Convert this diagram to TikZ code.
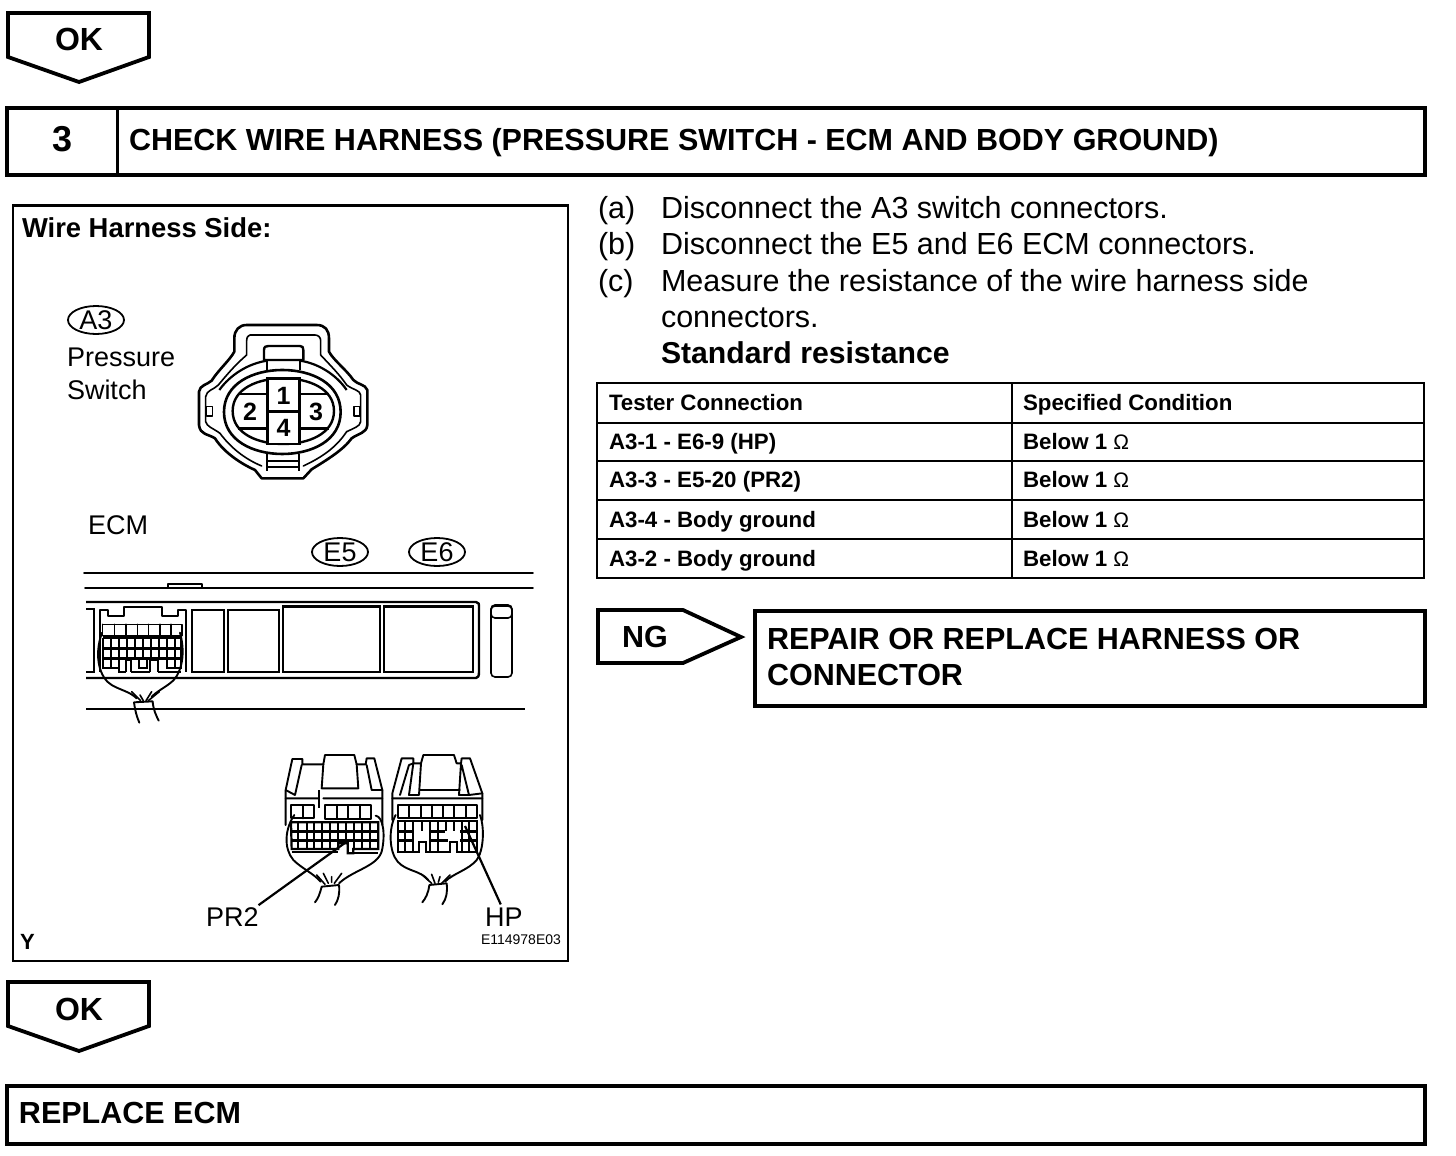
\documentclass[tikz,border=0pt]{standalone}
\usepackage{fontspec}
\setmainfont{Liberation Sans}
\usetikzlibrary{shapes.geometric}
\newcommand{\fs}[1]{\fontsize{#1}{#1}\selectfont}
\newcommand{\ohm}{{\mdseries\fs{21}Ω}}
\tikzset{
  txt/.style={anchor=base west,inner sep=0pt,outer sep=0pt,text=black},
  body/.style={txt,font=\fs{30.5}},
  bodyb/.style={txt,font=\fs{30.5}\bfseries},
  okt/.style={txt,font=\fs{32}\bfseries},
  cell/.style={txt,font=\fs{22.3}\bfseries},
  label/.style={txt,font=\fs{27}},
  heavy/.style={draw=black,line width=3.8pt,line join=miter},
  med/.style={draw=black,line width=2.4pt},
  thn/.style={draw=black,line width=1.6pt,line cap=round,line join=round},
  grid/.style={draw=black,line width=2.2pt},
  oval/.style={ellipse,draw=black,line width=1.8pt,minimum width=56pt,minimum height=28pt,inner sep=0pt,font=\fs{27}},
  pin/.style={inner sep=0pt,font=\fs{25}\bfseries}
}
\begin{document}
\begin{tikzpicture}[x=1pt,y=-1pt]
\useasboundingbox (0,0) rectangle (1456,1156);
\fill[white] (0,0) rectangle (1456,1156);
% top OK
\draw[heavy] (8,13)--(149,13)--(149,57)--(79,82)--(8,57)--cycle;
\node[okt] (ok1) at (55,51) {OK};
% title
\draw[heavy] (7,108) rectangle (1425,175);
\draw[med,line width=3pt] (117,108)--(117,175);
\node[txt,font=\fs{36}\bfseries] (num) at (52,151) {3};
\node[bodyb] (title) at (129,150) {CHECK WIRE HARNESS (PRESSURE SWITCH - ECM AND BODY GROUND)};
% panel
\draw[med] (13,205.5) rectangle (568,961);
\node[txt,font=\fs{27.4}\bfseries] (wh) at (22,237) {Wire Harness Side:};
\node[oval] (a3) at (96,320) {A3};
\node[label] (ps1) at (67,366) {Pressure};
\node[label] (ps2) at (67,399) {Switch};
% pressure switch connector
\begin{scope}[shift={(190,310)},x=0.3333pt,y=-0.3333pt]
\draw[draw=black,line width=2.6pt,line join=round]
 (170,45)--(380,45) .. controls (405,45) and (417,60) .. (417,85) -- (417,125) .. controls (430,150) and (470,180) .. (490,210)
 .. controls (505,225) and (525,222) .. (532,240) -- (532,345) .. controls (530,370) and (505,370) .. (485,385)
 .. controls (460,420) and (410,450) .. (365,478) -- (340,505) -- (215,505) -- (195,480) .. controls (150,460) and (100,425) .. (75,385)
 .. controls (55,372) and (30,375) .. (27,345) -- (27,245) .. controls (30,225) and (50,225) .. (65,212)
 .. controls (85,180) and (120,150) .. (133,125) -- (133,85) .. controls (133,60) and (148,45) .. (170,45) -- cycle;
\draw[thn] (180,75)--(375,75) .. controls (385,75) and (392,82) .. (392,92) -- (392,135)
 .. controls (420,165) and (450,195) .. (470,225) .. controls (490,240) and (510,240) .. (512,255) -- (512,335)
 .. controls (510,350) and (490,355) .. (470,365) .. controls (440,410) and (400,440) .. (340,468)
 (215,468) .. controls (160,445) and (120,410) .. (90,370) .. controls (70,355) and (50,350) .. (47,335) -- (47,260)
 .. controls (50,240) and (70,240) .. (85,225) .. controls (110,195) and (135,165) .. (170,135) -- (170,92) .. controls (170,82) and (175,75) .. (180,75);
\draw[thn] (50,290) rectangle (68,318) (492,290) rectangle (510,318);
% latch on top
\draw[draw=black,line width=2.4pt,line join=round] (222,150)--(222,120) .. controls (222,110) and (228,108) .. (235,108) -- (330,108) .. controls (338,108) and (340,112) .. (340,120) -- (340,150) -- cycle;
\draw[grid] (232,150)--(232,180) (330,150)--(330,180);
% rings
\draw[grid] (232,152) .. controls (175,160) and (120,195) .. (88,240)
            (330,152) .. controls (385,160) and (440,195) .. (470,240);
\draw[draw=black,line width=2.6pt] (102,306) .. controls (102,220) and (190,180) .. (277,180) .. controls (365,180) and (452,220) .. (452,306) .. controls (452,392) and (365,432) .. (277,432) .. controls (190,432) and (102,392) .. (102,306) -- cycle;
\draw[draw=black,line width=2.4pt] (128,303) .. controls (128,235) and (205,205) .. (280,205) .. controls (355,205) and (432,235) .. (432,303) .. controls (432,372) and (355,402) .. (280,402) .. controls (205,402) and (128,372) .. (128,303) -- cycle;
% cavity dividers
\draw[draw=black,line width=2.4pt,fill=white] (233,205) rectangle (328,402);
\draw[draw=black,line width=2.4pt] (143,252)--(233,252) (143,355)--(233,355) (328,252)--(418,252) (328,355)--(418,355) (233,305)--(328,305);
% bottom tab
\draw[draw=black,line width=2pt] (232,432)--(232,482) (328,432)--(328,482) (232,452)--(328,452) (232,470)--(328,470);
\end{scope}
\node[pin] (p1) at (283.5,395.5) {1};
\node[pin] (p2) at (250,412) {2};
\node[pin] (p3) at (316,412) {3};
\node[pin] (p4) at (283.5,428) {4};
% ECM
\node[label] (ecm) at (88,534) {ECM};
\node[oval] (e5) at (340,552) {E5};
\node[oval] (e6) at (437,552) {E6};
\draw[thn] (84,573)--(533,573);
\draw[thn] (85,588)--(533,588);
\draw[thn] (168,588)--(168,584)--(202,584)--(202,588);
\draw[draw=black,line width=2.4pt,line join=round] (86,602)--(476,602) .. controls (479,602) and (479,604) .. (479,608) -- (479,672) .. controls (479,676) and (478,678) .. (476,678) -- (86,678);
\draw[draw=black,line width=2.4pt] (86,709)--(525,709);
\draw[draw=black,line width=2.4pt] (86,609)--(94,609)--(94,672)--(86,672);
\draw[draw=black,line width=2.4pt,line join=round] (100,672)--(100,610)--(108,610)--(108,616)--(124,616)--(124,607)--(162,607)--(162,616)--(178,616)--(178,610)--(186,610)--(186,672);
\draw[draw=black,line width=2.4pt] (192,610) rectangle (224,672);
\draw[draw=black,line width=2.4pt] (228,610) rectangle (279,672);
\draw[draw=black,line width=2.8pt] (283,606.5) rectangle (380,672);
\draw[draw=black,line width=2.8pt] (384,606.5) rectangle (473,672);
\draw[draw=black,line width=1.6pt,rounded corners=4pt] (491,606) rectangle (512,677);
\draw[draw=black,line width=1.6pt,rounded corners=4pt] (491,605) rectangle (512,618);
% small ECM connector
\begin{scope}[shift={(80,570)},x=0.3333pt,y=-0.3333pt]
\fill[white] (62,160) rectangle (310,310);
\draw[thn] (68,163)--(306,163)--(306,197) (68,163)--(68,197);
\foreach \x in {103,138,172,206,240,273} \draw[thn] (\x,163)--(\x,197);
\draw[draw=black,line width=2.4pt] (68,198)--(300,198);
\draw[draw=black,line width=3pt] (70,235)--(304,235) (70,265)--(302,265);
\draw[grid] (70,205)--(304,205) (70,205)--(70,295)--(118,295) (138,305)--(138,270)--(152,270)--(152,305) (176,270)--(176,295)--(200,295)--(200,270) (210,305)--(210,270)--(235,270)--(235,305) (260,270)--(260,295)--(304,295)--(304,205);
\foreach \x in {93,118,142,166,190,214,236,260,284} \draw[grid] (\x,205)--(\x,265);
\foreach \x in {93,118,260,284} \draw[grid] (\x,265)--(\x,295);
\draw[grid] (118,295)--(118,305)--(138,305) (152,305)--(210,305) (235,305)--(304,305);
\draw[thn,line width=1.9pt] (66,188) .. controls (40,260) and (60,325) .. (95,345) .. controls (120,360) and (150,365) .. (170,385)
 (300,188) .. controls (320,260) and (300,320) .. (270,340) .. controls (250,355) and (230,365) .. (215,380);
\draw[thn] (155,365)--(182,392) (180,375)--(190,392) (215,365)--(198,392) (238,365)--(205,392);
\draw[thn,line width=1.9pt] (162,397)--(218,394) (162,397) .. controls (165,420) and (170,440) .. (178,458) (218,394) .. controls (220,420) and (228,435) .. (236,452);
\end{scope}
% E5 connector
\begin{scope}[shift={(275,745)},x=0.3333pt,y=-0.3333pt]
\draw[thn,line width=1.9pt] (32,240)--(32,135)--(52,42)--(82,42)--(82,58)--(145,58)--(150,30)--(238,30)--(245,58)--(272,58)--(275,40)--(298,40)--(322,135)--(322,240);
\draw[thn,line width=1.9pt] (32,160)--(130,160) (145,160)--(322,160) (60,150)--(80,60) (60,150)--(32,135) (275,60)--(290,135)--(322,135) (145,58)--(140,130)--(250,130)--(245,58);
\draw[draw=black,line width=2.6pt] (132,135)--(132,188);
\draw[thn,line width=1.9pt] (48,180) rectangle (118,220) (83,180)--(83,220);
\draw[thn,line width=1.9pt] (150,180) rectangle (288,222);
\foreach \x in {185,220,254} \draw[thn,line width=1.9pt] (\x,180)--(\x,222);
\draw[grid] (48,232)--(310,232)--(310,312)--(235,312)--(235,325)--(218,325)--(218,295)--(190,295)--(190,312)--(50,312)--(48,232);
\draw[draw=black,line width=3pt] (48,260)--(310,260) (48,288)--(310,288);
\foreach \x in {70,95,118,142,166,190,214,238,262,286} \draw[grid] (\x,232)--(\x,288);
\foreach \x in {70,95,118,142,166,238,262,286} \draw[grid] (\x,288)--(\x,312);
\draw[grid] (50,322)--(190,322) (235,325)--(310,325);
\draw[thn,line width=1.9pt] (58,210) .. controls (30,250) and (25,310) .. (55,345) .. controls (80,370) and (115,385) .. (137,410)
 (302,212) .. controls (325,215) and (332,270) .. (320,320) .. controls (305,365) and (235,375) .. (192,415);
\draw[thn] (125,390)--(150,418) (145,385)--(160,415) (170,395)--(170,412) (200,385)--(178,415);
\draw[thn,line width=1.9pt] (140,425)--(192,420) (140,425) .. controls (135,445) and (130,460) .. (120,472) (192,420) .. controls (195,445) and (190,465) .. (180,480);
\end{scope}
% E6 connector
\begin{scope}[shift={(385,745)},x=0.3333pt,y=-0.3333pt]
\draw[thn,line width=1.9pt] (22,225)--(22,145)--(50,40)--(85,40)--(85,55)--(108,55)--(115,30)--(207,30)--(215,55)--(228,55)--(230,40)--(255,40)--(292,145)--(292,225);
\draw[thn,line width=1.9pt] (22,160)--(292,160) (45,150)--(72,60)--(85,55) (85,55)--(72,150)--(102,150)--(108,55) (228,55)--(222,150)--(252,150)--(230,60) (252,150)--(292,145) (103,135)--(225,135);
\draw[thn,line width=1.9pt] (38,180) rectangle (275,218);
\foreach \x in {72,107,142,175,208,243} \draw[thn,line width=1.9pt] (\x,180)--(\x,218);
\draw[grid] (38,228)--(275,228)--(275,322)--(215,322)--(215,292)--(195,292)--(195,322)--(122,322)--(122,292)--(103,292)--(103,322)--(38,322)--cycle;
\draw[draw=black,line width=3pt] (38,258)--(88,258) (135,258)--(180,258) (225,258)--(275,258) (38,288)--(88,288) (135,288)--(188,288) (225,288)--(275,288);
\foreach \x in {60,85,110,135,160,184,207,230,252} \draw[grid] (\x,228)--(\x,258);
\foreach \x in {60,85,135,160,230,252} \draw[grid] (\x,258)--(\x,318);
\draw[thn,line width=1.9pt] (32,210) .. controls (10,250) and (12,320) .. (38,350) .. controls (65,380) and (105,375) .. (130,405)
 (285,210) .. controls (300,250) and (295,320) .. (275,345) .. controls (250,375) and (205,385) .. (180,410);
\draw[thn] (112,390)--(140,415) (140,388)--(150,415) (165,395)--(160,412) (195,390)--(170,415);
\draw[thn,line width=1.9pt] (133,420)--(185,415) (133,420) .. controls (130,445) and (122,460) .. (112,472) (185,415) .. controls (188,440) and (185,460) .. (172,478);
\end{scope}
% leaders
\node[label] (pr2) at (206,926) {PR2};
\node[label] (hp) at (485,926) {HP};
\coordinate (prend) at (349,840);
\coordinate (hpend) at (465,826);
\draw[draw=black,line width=2.2pt] (pr2.north east) ++(0,-2) -- (prend);
\draw[draw=black,line width=2.2pt] (hp.north) ++(-3,-3) -- (hpend);
\node[txt,font=\fs{22}\bfseries] (y) at (20,949) {Y};
\node[txt,font=\fs{14}] (code) at (481,944) {E114978E03};
% steps
\node[body] (sa) at (598,218) {(a)};
\node[body] (ta) at (661,218) {Disconnect the A3 switch connectors.};
\node[body] (sb) at (598,254) {(b)};
\node[body] (tb) at (661,254) {Disconnect the E5 and E6 ECM connectors.};
\node[body] (sc) at (598,291) {(c)};
\node[body] (tc) at (661,291) {Measure the resistance of the wire harness side};
\node[body] (td) at (661,327) {connectors.};
\node[txt,font=\fs{30.2}\bfseries] (te) at (661,363) {Standard resistance};
% table
\draw[med] (597,383) rectangle (1424,578);
\draw[med] (1012,383)--(1012,578);
\foreach \y in {423,461,500,539} \draw[med] (597,\y)--(1424,\y);
\node[cell] (h1) at (609,410) {Tester Connection};
\node[cell] (h2) at (1023,410) {Specified Condition};
\node[cell] (r1) at (609,449) {A3-1 - E6-9 (HP)};
\node[cell] (r2) at (609,487) {A3-3 - E5-20 (PR2)};
\node[cell] (r3) at (609,527) {A3-4 - Body ground};
\node[cell] (r4) at (609,566) {A3-2 - Body ground};
\node[cell] (v1) at (1023,449) {Below 1 \ohm};
\node[cell] (v2) at (1023,487) {Below 1 \ohm};
\node[cell] (v3) at (1023,527) {Below 1 \ohm};
\node[cell] (v4) at (1023,566) {Below 1 \ohm};
% NG
\draw[heavy] (598,610)--(683,610)--(741,637)--(683,663)--(598,663)--cycle;
\node[bodyb] (ng) at (622,647) {NG};
\draw[heavy] (755,611) rectangle (1425,706);
\node[bodyb] (r1a) at (767,649) {REPAIR OR REPLACE HARNESS OR};
\node[bodyb] (r1b) at (767,685) {CONNECTOR};
% lower OK
\draw[heavy] (8,982)--(149,982)--(149,1026)--(79,1051)--(8,1026)--cycle;
\node[okt] (ok2) at (55,1020) {OK};
\draw[heavy] (7,1086) rectangle (1425,1144);
\node[bodyb] (rep) at (19,1123) {REPLACE ECM};
\end{tikzpicture}
\end{document}
